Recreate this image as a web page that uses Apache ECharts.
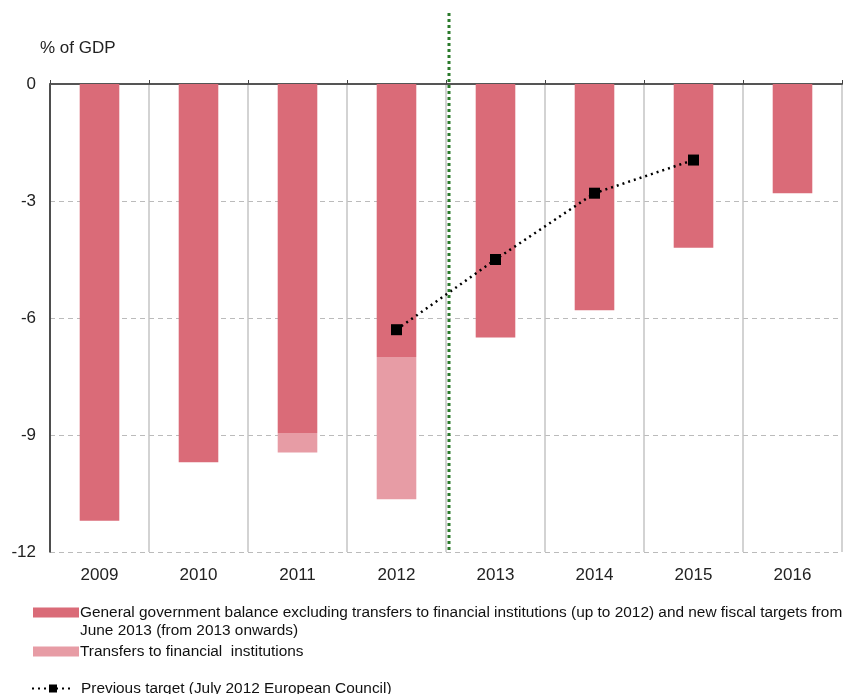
<!DOCTYPE html>
<html>
<head>
<meta charset="utf-8">
<script src="https://cdn.jsdelivr.net/npm/echarts@6/dist/echarts.min.js"></script>
<style>
  html, body { margin: 0; padding: 0; background: #fff; }
  #chart { width: 850px; height: 694px; }
</style>
</head>
<body>
<div id="chart"></div>
<script>
// data
var years = ['2009', '2010', '2011', '2012', '2013', '2014', '2015', '2016'];
var balance = [-11.2, -9.7, -8.95, -7.0, -6.5, -5.8, -4.2, -2.8];
var transfers = [null, null, -0.5, -3.65, null, null, null, null];
var prevTarget = [null, null, null, -6.3, -4.5, -2.8, -1.95, null];

var nameBalance = 'General government balance excluding transfers to financial institutions (up to 2012) and new fiscal targets from';
var nameTransfers = 'Transfers to financial  institutions';
var nameTarget = 'Previous target (July 2012 European Council)';

var font = 'Liberation Sans';
var chart = echarts.init(document.getElementById('chart'));

var option = {
    animation: false,
    textStyle: { fontFamily: font },
    grid: { left: 50, right: 8, top: 84, bottom: 142 },
    xAxis: [
        {
            type: 'category',
            data: years,
            position: 'bottom',
            axisLine: { show: false },
            axisTick: { show: false },
            axisLabel: { fontSize: 17, color: '#222', margin: 15 },
            splitLine: { show: true, lineStyle: { color: '#c4c4c4', width: 1.5 } }
        },
        {
            type: 'category',
            data: years,
            position: 'top',
            axisLine: { show: true, lineStyle: { color: '#555', width: 2 } },
            axisTick: { show: true, length: 4, lineStyle: { color: '#444' } },
            axisLabel: { show: false },
            splitLine: { show: false }
        }
    ],
    yAxis: {
        type: 'value',
        min: -12,
        max: 0,
        interval: 3,
        name: '% of GDP',
        nameLocation: 'end',
        nameGap: 27,
        nameTextStyle: { fontSize: 17, color: '#222', align: 'left', padding: [0, 0, 0, -10] },
        axisLine: { show: true, lineStyle: { color: '#222', width: 1.5 } },
        axisTick: { show: false },
        axisLabel: { fontSize: 17, color: '#222', margin: 14 },
        splitLine: { show: true, lineStyle: { color: '#bbb', type: [5, 4] } }
    },
    legend: [
        {
            data: [nameBalance],
            left: 28, top: 600,
            itemWidth: 46, itemHeight: 10, itemGap: 0,
            icon: 'rect',
            textStyle: { fontSize: 15.4, color: '#111', padding: [0, 0, 0, -4] },
            selectedMode: false
        },
        {
            data: [nameTransfers],
            left: 28, top: 639,
            itemWidth: 46, itemHeight: 10,
            icon: 'rect',
            textStyle: { fontSize: 15.4, color: '#111', padding: [0, 0, 0, -4] },
            selectedMode: false
        },
        {
            data: [nameTarget],
            left: 26, top: 676,
            itemWidth: 42, itemHeight: 10,
            textStyle: { fontSize: 15.4, color: '#111', padding: [0, 0, 0, 2] },
            selectedMode: false
        }
    ],
    series: [
        {
            name: nameBalance,
            type: 'bar',
            stack: 'total',
            data: balance,
            barWidth: '40%',
            itemStyle: { color: '#da6b78' }
        },
        {
            name: nameTransfers,
            type: 'bar',
            stack: 'total',
            data: transfers,
            barWidth: '40%',
            itemStyle: { color: '#e79ca5' }
        },
        {
            name: nameTarget,
            type: 'line',
            data: prevTarget,
            symbol: 'rect',
            symbolSize: 11,
            itemStyle: { color: '#000' },
            lineStyle: { color: '#000', width: 2.5, type: [2, 4] },
            z: 5
        }
    ]
};

chart.setOption(option);

// vertical divider between 2012 and 2013, plus the wrapped legend line
var x1 = chart.convertToPixel({ xAxisIndex: 0 }, '2012');
var x2 = chart.convertToPixel({ xAxisIndex: 0 }, '2013');
var divX = (x1 + x2) / 2 + 3;
var yBottom = chart.convertToPixel({ yAxisIndex: 0 }, -12);

chart.setOption({
    graphic: [
        {
            type: 'line',
            shape: { x1: divX, y1: 13, x2: divX, y2: yBottom },
            style: { stroke: '#2b7a2b', lineWidth: 3, lineDash: [3, 3] },
            z: 10
        },
        {
            type: 'text',
            left: 80, top: 623,
            style: { text: 'June 2013 (from 2013 onwards)', font: '15.4px ' + font, fill: '#111' }
        }
    ]
});

window.addEventListener('resize', function() {
    chart.resize();
});
</script>
</body>
</html>
